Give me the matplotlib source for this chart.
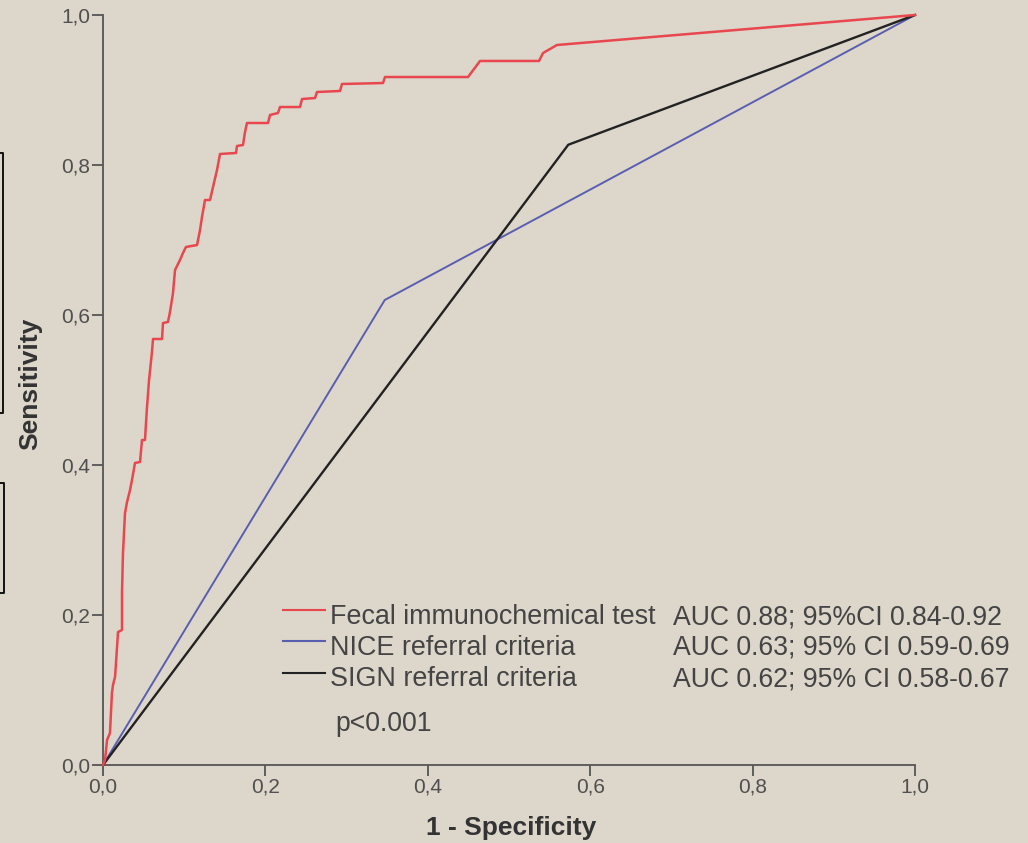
import matplotlib.pyplot as plt
from matplotlib.lines import Line2D

# ROC curve data
fit_fpr = [0, 0.0025, 0.005, 0.0086, 0.011, 0.0123, 0.0148, 0.016, 0.0185, 0.0234,
           0.0234, 0.0246, 0.0271, 0.0296, 0.0333, 0.0357, 0.0394, 0.0456, 0.048, 0.0517,
           0.0542, 0.0567, 0.0603, 0.0616, 0.0727, 0.0739, 0.080, 0.0825, 0.0862, 0.0887,
           0.0948, 0.0985, 0.1022, 0.1158, 0.1195, 0.1219, 0.1256, 0.1318, 0.1355, 0.1404,
           0.1441, 0.1638, 0.165, 0.1724, 0.1749, 0.1773, 0.2032, 0.2057, 0.2155, 0.218,
           0.2426, 0.2451, 0.2611, 0.2635, 0.2919, 0.2943, 0.3448, 0.3473, 0.4495, 0.4643,
           0.537, 0.5419, 0.5591, 1.0]
fit_tpr = [0, 0.0067, 0.0333, 0.0427, 0.096, 0.1067, 0.1173, 0.136, 0.1773, 0.18,
           0.2293, 0.2827, 0.336, 0.3507, 0.3667, 0.38, 0.4027, 0.404, 0.4333, 0.4333,
           0.4773, 0.5133, 0.5507, 0.568, 0.568, 0.5893, 0.5907, 0.604, 0.6293, 0.66,
           0.6733, 0.6827, 0.6907, 0.6933, 0.7133, 0.7307, 0.7533, 0.7533, 0.7707, 0.7933,
           0.8147, 0.816, 0.8253, 0.8267, 0.844, 0.856, 0.856, 0.8667, 0.8693, 0.8773,
           0.8773, 0.888, 0.8893, 0.8973, 0.8987, 0.908, 0.9093, 0.9173, 0.9173, 0.9387,
           0.9387, 0.9493, 0.96, 1.0]
nice_fpr = [0, 0.347, 1.0]
nice_tpr = [0, 0.62, 1.0]
sign_fpr = [0, 0.573, 1.0]
sign_tpr = [0, 0.827, 1.0]

names = ['Fecal immunochemical test', 'NICE referral criteria', 'SIGN referral criteria']
aucs = ['AUC 0.88; 95%CI 0.84-0.92', 'AUC 0.63; 95% CI 0.59-0.69', 'AUC 0.62; 95% CI 0.58-0.67']
colors = ['#e8474f', '#5a5eb0', '#222222']
ticks = [0, 0.2, 0.4, 0.6, 0.8, 1.0]
tick_labels = ['0,0', '0,2', '0,4', '0,6', '0,8', '1,0']

W, H = 1028, 843
bg = '#ddd6ca'
fig = plt.figure(figsize=(W / 100, H / 100), dpi=100, facecolor=bg)
plt.rcParams['font.family'] = ['Liberation Sans', 'DejaVu Sans']


def fx(px):
    return px / W


def fy(py):
    return 1 - py / H


ax = fig.add_axes([fx(103), fy(765), fx(915) - fx(103), fy(15) - fy(765)])
ax.set_facecolor(bg)
ax.set_xlim(0, 1)
ax.set_ylim(0, 1)

ax.plot(fit_fpr, fit_tpr, color=colors[0], lw=1.8, clip_on=False, zorder=4)
ax.plot(nice_fpr, nice_tpr, color=colors[1], lw=1.4, clip_on=False, zorder=3)
ax.plot(sign_fpr, sign_tpr, color=colors[2], lw=1.7, clip_on=False, zorder=3)

for s in ['top', 'right']:
    ax.spines[s].set_visible(False)
for s in ['left', 'bottom']:
    ax.spines[s].set_color('#555555')
    ax.spines[s].set_linewidth(1.3)

ax.set_xticks(ticks)
ax.set_xticklabels(tick_labels)
ax.set_yticks(ticks)
ax.set_yticklabels(tick_labels)
ax.tick_params(direction='out', length=8, width=1.3, color='#555555',
               labelcolor='#505050', labelsize=15, pad=1)

fig.text(fx(30), fy(384), 'Sensitivity', rotation=90, ha='center', va='center',
         fontsize=19, fontweight='bold', color='#333333')
fig.text(fx(511), fy(828), '1 - Specificity', ha='center', va='center',
         fontsize=19, fontweight='bold', color='#333333')

# legend block
line_y = [610, 641, 673]
text_base = [624, 655, 686]
for i in range(3):
    fig.add_artist(Line2D([fx(283), fx(325)], [fy(line_y[i]), fy(line_y[i])],
                          color=colors[i], lw=1.5))
    fig.text(fx(330), fy(text_base[i]), names[i], ha='left', va='baseline',
             fontsize=19.4, color='#444444')
    fig.text(fx(673), fy(text_base[i]), aucs[i], ha='left', va='baseline',
             fontsize=19.2, color='#444444')
fig.text(fx(335), fy(731), 'p<0.001', ha='left', va='baseline',
         fontsize=19.2, color='#444444')

# bracket fragments on the left edge
for xs, ys in [([0, 3, 3, 0], [153, 153, 413, 413]), ([0, 4, 4, 0], [483, 483, 593, 593])]:
    fig.add_artist(Line2D([fx(v) for v in xs], [fy(v) for v in ys], color='#111111', lw=1.4))

fig.savefig('out.png', dpi=100, facecolor=bg)
